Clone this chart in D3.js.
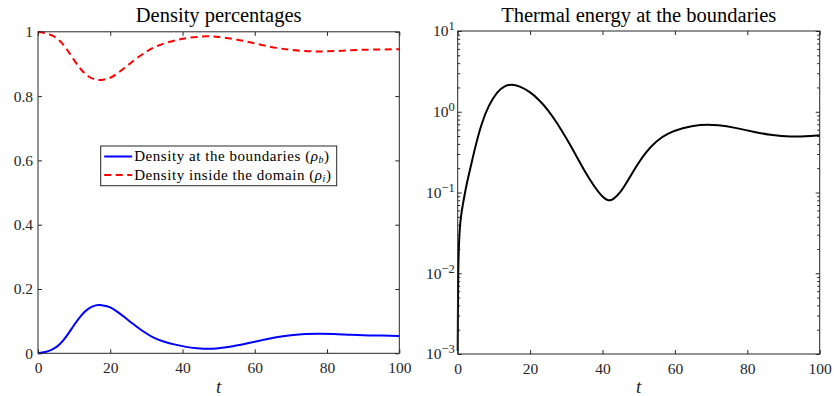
<!DOCTYPE html>
<html>
<head>
<meta charset="utf-8">
<script src="https://cdn.jsdelivr.net/npm/d3@7"></script>
<style>
	body { margin: 0; background: #fff; }
	svg { display: block; }
	text { font-family: "Liberation Serif", "Times New Roman", serif; fill: #262626; }
	.tick line { stroke: #262626; }
	.title { font-size: 20.5px; fill: #000; }
	.label { font-size: 19px; font-style: italic; }
	.tick text { font-size: 15.5px; fill: #262626; }
	.legend text { font-size: 15px; letter-spacing: 0.55px; fill: #000; }
</style>
</head>
<body>
<div id="chart"></div>
<script>
// density panel: time samples and the two densities
const densityTime = [0, 2, 4, 6, 8, 10, 12, 14, 16, 17, 18, 20, 22, 24, 26, 28, 30, 32, 35, 38, 41, 44, 47, 50, 54, 58, 62, 66, 70, 74, 78, 82, 86, 90, 95, 100];
const densityBoundary = [0.0, 0.004, 0.012, 0.028, 0.055, 0.088, 0.118, 0.139, 0.149, 0.150, 0.149, 0.143, 0.129, 0.112, 0.094, 0.077, 0.062, 0.049, 0.036, 0.027, 0.020, 0.016, 0.014, 0.016, 0.022, 0.031, 0.041, 0.050, 0.056, 0.060, 0.061, 0.060, 0.058, 0.056, 0.055, 0.054];
const densityInside = [1.0, 0.996, 0.988, 0.972, 0.945, 0.912, 0.882, 0.861, 0.851, 0.850, 0.851, 0.857, 0.871, 0.888, 0.906, 0.923, 0.938, 0.951, 0.964, 0.973, 0.980, 0.984, 0.986, 0.984, 0.978, 0.969, 0.959, 0.950, 0.944, 0.940, 0.939, 0.940, 0.942, 0.944, 0.945, 0.946];

// thermal energy panel (log scale)
const energyTime = [0, 0.1, 0.25, 0.5, 0.85, 1.5, 2.5, 3.5, 4.8, 6.5, 8.5, 11, 13, 15, 17, 20, 22.5, 25, 27.5, 30, 32.5, 35, 38, 40, 41.6, 43, 45, 47, 49, 52, 55, 58, 62, 67, 72, 77, 82, 87, 92, 96, 100];
const energyValue = [0.0011, 0.008, 0.018, 0.033, 0.05, 0.075, 0.13, 0.2, 0.36, 0.7, 1.2, 1.8, 2.1, 2.2, 2.08, 1.77, 1.4, 1.05, 0.72, 0.47, 0.3, 0.185, 0.113, 0.088, 0.078, 0.082, 0.1, 0.14, 0.2, 0.32, 0.44, 0.54, 0.63, 0.70, 0.69, 0.63, 0.56, 0.51, 0.49, 0.495, 0.51];

const xTicks = [0, 20, 40, 60, 80, 100];
const densityTicks = [0, 0.2, 0.4, 0.6, 0.8, 1];
const energyTicks = [1e-3, 1e-2, 1e-1, 1e0, 1e1];

const legendLabels = [
	{ text: "Density at the boundaries (", sym: "ρ", sub: "b", color: "#0000ff", dash: null },
	{ text: "Density inside the domain (", sym: "ρ", sub: "i", color: "#ff0000", dash: "7,4.5" },
];

const fullWidth = 834, fullHeight = 396;
const svg = d3.select("#chart").append("svg")
	.attr("width", fullWidth)
	.attr("height", fullHeight);

const tickLen = 4;

function drawFrame(g, width, height) {
	g.append("rect")
		.attr("x", 0).attr("y", 0)
		.attr("width", width).attr("height", height)
		.attr("fill", "none")
		.attr("stroke", "#262626")
		.attr("stroke-width", 1);
}

function xAxes(g, x, height) {
	g.append("g")
		.attr("transform", "translate(0," + height + ")")
		.call(d3.axisBottom(x).tickValues(xTicks).tickSizeInner(-tickLen).tickSizeOuter(0).tickPadding(9))
		.call(a => a.select(".domain").remove());
	g.append("g")
		.call(d3.axisTop(x).tickValues(xTicks).tickSizeInner(-tickLen).tickSizeOuter(0).tickFormat(""))
		.call(a => a.select(".domain").remove());
}

// Left panel
{
	const margin = { left: 38, top: 31.8 };
	const width = 399.3 - 38, height = 353.3 - 31.8;
	const g = svg.append("g").attr("transform", "translate(" + margin.left + "," + margin.top + ")");
	const x = d3.scaleLinear().domain([0, 100]).range([0, width]);
	const y = d3.scaleLinear().domain([0, 1]).range([height, 0]);

	xAxes(g, x, height);
	g.append("g")
		.call(d3.axisLeft(y).tickValues(densityTicks).tickSizeInner(-tickLen).tickSizeOuter(0).tickPadding(5)
			.tickFormat(d => d === 0 || d === 1 ? d3.format("d")(d) : d3.format(".1f")(d)))
		.call(a => a.select(".domain").remove());
	g.append("g")
		.attr("transform", "translate(" + width + ",0)")
		.call(d3.axisRight(y).tickValues(densityTicks).tickSizeInner(-tickLen).tickSizeOuter(0).tickFormat(""))
		.call(a => a.select(".domain").remove());

	const line = d3.line().x(d => x(d[0])).y(d => y(d[1])).curve(d3.curveNatural);
	g.append("path")
		.datum(densityTime.map((t, i) => [t, densityBoundary[i]]))
		.attr("d", line)
		.attr("fill", "none").attr("stroke", "#0000ff").attr("stroke-width", 2);
	g.append("path")
		.datum(densityTime.map((t, i) => [t, densityInside[i]]))
		.attr("d", line)
		.attr("fill", "none").attr("stroke", "#ff0000").attr("stroke-width", 2)
		.attr("stroke-dasharray", "7,4.5");

	drawFrame(g, width, height);

	svg.append("text").classed("title", true)
		.attr("x", margin.left + width / 2).attr("y", 22)
		.attr("text-anchor", "middle")
		.text("Density percentages");
	svg.append("text").classed("label", true)
		.attr("x", margin.left + width / 2).attr("y", 393)
		.attr("text-anchor", "middle")
		.text("t");

	// legend
	const legend = svg.append("g").classed("legend", true).attr("transform", "translate(100.7,146)");
	legend.append("rect")
		.attr("width", 236).attr("height", 39.7)
		.attr("fill", "#fff").attr("stroke", "#262626").attr("stroke-width", 1);
	legendLabels.forEach((l, i) => {
		const cy = 10.5 + i * 18.5;
		legend.append("line")
			.attr("x1", 3.5).attr("x2", 31.5).attr("y1", cy).attr("y2", cy)
			.attr("stroke", l.color).attr("stroke-width", 2)
			.attr("stroke-dasharray", l.dash);
		const t = legend.append("text").attr("x", 33.5).attr("y", cy + 4.5);
		t.append("tspan").text(l.text);
		t.append("tspan").style("font-style", "italic").text(l.sym);
		t.append("tspan").style("font-style", "italic").style("font-size", "10px").attr("dy", 2).text(l.sub);
		t.append("tspan").attr("dy", -2).text(")");
	});
}

// Right panel
{
	const margin = { left: 457.7, top: 31 };
	const width = 819.7 - 457.7, height = 354 - 31;
	const g = svg.append("g").attr("transform", "translate(" + margin.left + "," + margin.top + ")");
	const x = d3.scaleLinear().domain([0, 100]).range([0, width]);
	const y = d3.scaleLog().domain([1e-3, 1e1]).range([height, 0]);

	xAxes(g, x, height);

	const minor = [];
	for (let e = -3; e < 1; e++)
		for (let m = 2; m <= 9; m++)
			minor.push(m * Math.pow(10, e));

	const leftAxis = g.append("g")
		.call(d3.axisLeft(y).tickValues(energyTicks).tickSizeInner(-tickLen).tickSizeOuter(0).tickPadding(3))
		.call(a => a.select(".domain").remove());
	leftAxis.selectAll(".tick text").each(function (d) {
		const t = d3.select(this).text(null);
		const exp = Math.round(Math.log10(d));
		t.append("tspan").text("10");
		t.append("tspan").attr("dy", -6).style("font-size", "12.5px")
			.text(exp < 0 ? "\u2212" + (-exp) : exp);
	});
	g.append("g")
		.call(d3.axisLeft(y).tickValues(minor).tickSizeInner(-2.5).tickSizeOuter(0).tickFormat(""))
		.call(a => a.select(".domain").remove());
	g.append("g")
		.attr("transform", "translate(" + width + ",0)")
		.call(d3.axisRight(y).tickValues(energyTicks).tickSizeInner(-tickLen).tickSizeOuter(0).tickFormat(""))
		.call(a => a.select(".domain").remove());
	g.append("g")
		.attr("transform", "translate(" + width + ",0)")
		.call(d3.axisRight(y).tickValues(minor).tickSizeInner(-2.5).tickSizeOuter(0).tickFormat(""))
		.call(a => a.select(".domain").remove());

	const line = d3.line().x(d => x(d[0])).y(d => y(d[1])).curve(d3.curveBasis);
	g.append("path")
		.datum(energyTime.map((t, i) => [t, energyValue[i]]))
		.attr("d", line)
		.attr("fill", "none").attr("stroke", "#000").attr("stroke-width", 2);

	drawFrame(g, width, height);

	svg.append("text").classed("title", true)
		.attr("x", margin.left + width / 2).attr("y", 22)
		.attr("text-anchor", "middle")
		.text("Thermal energy at the boundaries");
	svg.append("text").classed("label", true)
		.attr("x", margin.left + width / 2).attr("y", 393)
		.attr("text-anchor", "middle")
		.text("t");
}
</script>
</body>
</html>
